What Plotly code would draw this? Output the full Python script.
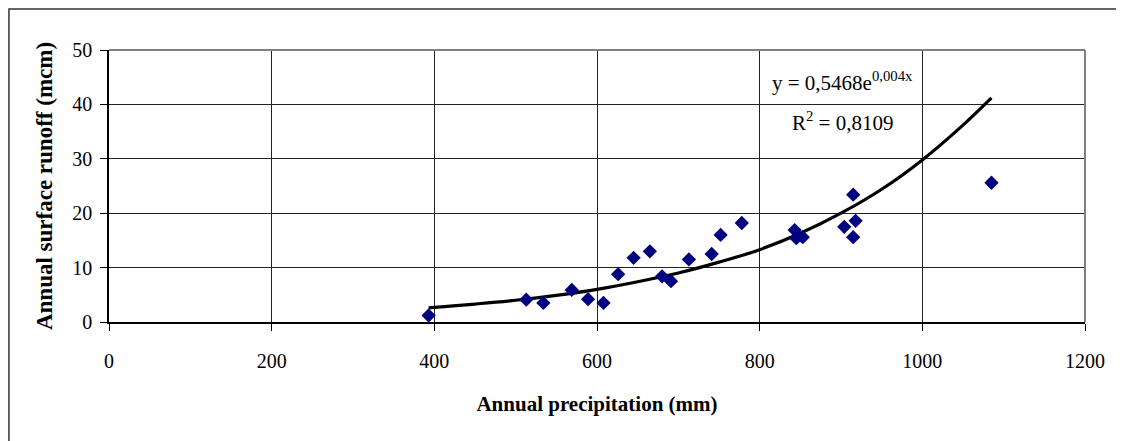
import plotly.graph_objects as go

precip_mm = [393, 513, 534, 569, 589, 608, 626, 645, 665, 680, 691, 713, 741,
             752, 778, 843, 845, 853, 904, 915, 918, 915, 1085]
runoff_mcm = [1.2, 4.1, 3.5, 5.9, 4.2, 3.5, 8.8, 11.8, 13.0, 8.4, 7.5, 11.5, 12.5,
              16.0, 18.2, 16.9, 15.4, 15.6, 17.5, 23.4, 18.6, 15.6, 25.6]

# Exponential trendline as drawn in the picture
trend_x = [393, 450, 500, 550, 600, 650, 700, 750, 800, 850, 900, 950, 1000, 1050, 1085]
trend_y = [2.6, 3.3, 4.0, 4.9, 6.0, 7.4, 9.0, 11.0, 13.3, 16.3, 20.0, 24.4, 29.8, 36.2, 41.2]

x_ticks = [0, 200, 400, 600, 800, 1000, 1200]
y_ticks = [0, 10, 20, 30, 40, 50]

eq_line1 = "y = 0,5468e<sup>0,004x</sup>"
eq_line2 = "R<sup>2</sup> = 0,8109"

FONT = "Liberation Serif, Times New Roman, serif"

fig = go.Figure()
fig.add_trace(go.Scatter(
    x=trend_x, y=trend_y, mode="lines", line=dict(color="black", width=3.2, shape="spline"),
    showlegend=False, hoverinfo="skip"))
fig.add_trace(go.Scatter(
    x=precip_mm, y=runoff_mcm, mode="markers",
    marker=dict(symbol="diamond", size=11, color="#000080", line=dict(width=0)),
    showlegend=False))

fig.update_layout(
    width=1116, height=433,
    margin=dict(l=101, r=39, t=42, b=119),
    paper_bgcolor="white", plot_bgcolor="white",
    font=dict(family=FONT, size=20, color="black"),
    xaxis=dict(
        range=[0, 1200], tickvals=x_ticks, ticktext=[str(v) for v in x_ticks],
        showgrid=True, gridcolor="#222222", gridwidth=1,
        showline=True, linecolor="black", linewidth=2,
        ticks="outside", ticklen=7, tickcolor="black", tickwidth=1,
        ticklabelstandoff=13, zeroline=False,
        title=dict(text="<b>Annual precipitation (mm)</b>", font=dict(size=21), standoff=25),
    ),
    yaxis=dict(
        range=[0, 50], tickvals=y_ticks, ticktext=[str(v) for v in y_ticks],
        showgrid=True, gridcolor="#222222", gridwidth=1,
        showline=True, linecolor="black", linewidth=1.5,
        ticks="outside", ticklen=7, tickcolor="black", tickwidth=1,
        ticklabelstandoff=4, zeroline=False,
        title=dict(text="<b>Annual surface runoff (mcm)</b>", font=dict(size=23), standoff=13),
    ),
    shapes=[
        # plot-area border (top and right, gray)
        dict(type="line", xref="paper", yref="paper", x0=0, x1=1, y0=1, y1=1,
             line=dict(color="#808080", width=2), layer="above"),
        dict(type="line", xref="paper", yref="paper", x0=1, x1=1, y0=0, y1=1,
             line=dict(color="#808080", width=2), layer="above"),
        # chart-area border
        dict(type="rect", xref="paper", yref="paper", x0=-0.1025, x1=1.0369, y0=-0.5, y1=1.151,
             line=dict(color="#333333", width=1.5), layer="below"),
    ],
    annotations=[
        dict(x=902, y=44.2, xref="x", yref="y", text=eq_line1, showarrow=False,
             font=dict(size=21, family=FONT, color="black"), bgcolor="white"),
        dict(x=902, y=36.8, xref="x", yref="y", text=eq_line2, showarrow=False,
             font=dict(size=21, family=FONT, color="black"), bgcolor="white"),
    ],
)

fig.write_html("out.html")
